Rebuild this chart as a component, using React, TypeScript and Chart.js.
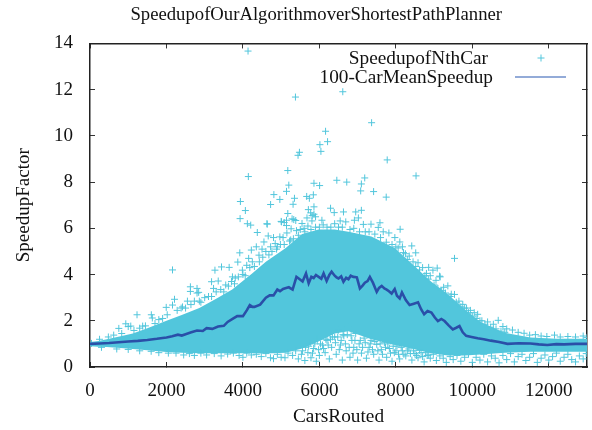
import React, { useEffect, useRef } from "react";
import { Chart, registerables } from "chart.js";

Chart.register(...registerables);

const titleText = "SpeedupofOurAlgorithmoverShortestPathPlanner";
const xTitle = "CarsRouted";
const yTitle = "SpeedupFactor";
const nthCarLabel = "SpeedupofNthCar";
const meanLabel = "100-CarMeanSpeedup";

const xTicks = [0, 2000, 4000, 6000, 8000, 10000, 12000];
const yTicks = [0, 2, 4, 6, 8, 10, 12, 14];

// Solid core of the cloud: upper and lower bounds
const bandX = [0, 220, 440, 800, 1120, 1500, 2000, 2400, 2860, 3300, 3720, 3980, 4240, 4600, 5120, 5550, 5980, 6400, 6760, 7360, 7970, 8400, 8920, 9360, 9800, 10220, 10840, 11520, 12200, 13000];
const bandUpper = [1.08, 1.13, 1.2, 1.33, 1.45, 1.68, 2.0, 2.25, 2.55, 2.95, 3.35, 3.7, 4.05, 4.55, 5.15, 5.75, 5.95, 5.95, 5.85, 5.65, 5.15, 4.5, 3.7, 3.15, 2.5, 1.95, 1.48, 1.28, 1.22, 1.22];
const bandLower = [0.9, 0.88, 0.86, 0.82, 0.78, 0.72, 0.65, 0.62, 0.6, 0.6, 0.6, 0.6, 0.6, 0.58, 0.62, 0.8, 1.1, 1.45, 1.55, 1.2, 0.95, 0.8, 0.6, 0.5, 0.5, 0.54, 0.62, 0.66, 0.66, 0.66];

// Individual crosses
const outlierPoints = [
  [4134, 13.67], [5374, 11.68], [6612, 11.91], [7366, 10.57], [6162, 10.2], [6214, 9.75], [6014, 9.62], [6040, 9.33], [5478, 9.29], [5442, 9.16], [7774, 8.96], [8528, 8.27], [4142, 8.24], [5174, 8.5], [7186, 8.18], [6456, 8.08], [6716, 8.0], [5858, 7.95], [5200, 7.87], [6006, 7.85], [7098, 7.92], [5140, 7.6], [7080, 7.62], [7418, 7.59], [4810, 7.46], [5842, 7.45], [5668, 7.38], [5738, 7.3], [7748, 7.35], [4966, 7.25], [5348, 7.3], [5312, 7.04], [4724, 7.03], [3934, 7.16], [5858, 6.93], [5712, 6.81], [4064, 6.77], [6292, 6.87], [6388, 6.68], [6630, 6.71], [6950, 6.71], [7098, 6.78], [5772, 6.67], [5858, 6.61], [5174, 6.64], [5810, 6.55], [5900, 6.5],
];

const upperEdgePoints = [
  [40, 1.02], [250, 1.2], [480, 1.3], [620, 1.38], [754, 1.67], [830, 1.45], [936, 1.87], [1000, 1.75], [1066, 1.77], [1150, 1.58], [1230, 2.26], [1300, 1.68], [1378, 1.77], [1450, 1.78], [1604, 2.26], [1630, 2.12], [1700, 1.88], [1800, 2.05], [1900, 2.1], [1994, 2.58], [2020, 2.26], [2158, 4.2], [2158, 2.68], [2210, 2.93], [2280, 2.45], [2384, 2.55], [2420, 2.6], [2500, 2.55], [2548, 2.85], [2626, 3.47], [2626, 3.27], [2640, 2.7], [2730, 2.85], [2800, 3.4], [2842, 3.23], [2800, 3.2], [2860, 2.85], [2900, 2.8], [3000, 3.0], [3100, 3.05], [3180, 3.05], [3180, 3.69], [3232, 3.4], [3268, 4.19], [3354, 3.72], [3440, 4.33], [3300, 3.25], [3420, 3.35], [3550, 3.55], [3640, 4.31], [3700, 3.7], [3726, 3.9], [3800, 3.85], [3866, 4.54], [3918, 4.94], [3926, 6.42], [3986, 4.19], [4116, 6.2], [4204, 6.14], [4376, 5.82], [4636, 6.18], [4628, 6.2], [5010, 6.28], [5080, 6.25], [5330, 6.38], [4662, 5.67], [5000, 6.3], [5140, 6.35], [5286, 6.41], [5382, 6.34], [5140, 6.12], [5260, 5.98], [5546, 6.21], [5806, 6.32], [6066, 6.35], [5676, 6.45], [4966, 5.63], [4844, 5.34], [4550, 5.41], [4350, 5.2], [4220, 5.06], [4724, 5.2], [4420, 4.84], [4246, 4.55], [4100, 4.4], [4150, 4.7], [4500, 5.1], [4600, 5.0], [4800, 5.6], [4900, 5.2], [5050, 5.6], [5150, 5.8], [5250, 5.5], [5400, 5.9], [5500, 5.95], [5600, 6.0], [5700, 6.1], [5900, 6.05], [6000, 6.05], [6100, 6.15], [6200, 6.05], [6300, 6.05], [6400, 6.2], [6544, 6.32], [6690, 6.28], [6916, 6.35], [7020, 6.45], [7150, 6.17], [7350, 6.18], [7584, 6.24], [7540, 6.04], [8112, 5.96], [7670, 5.85], [7818, 5.8], [7974, 5.6], [8104, 5.41], [8416, 5.24], [8172, 5.2], [8520, 4.94], [9534, 4.7], [8580, 4.51], [8858, 4.31], [9082, 4.28], [8970, 4.19], [9144, 3.93], [6500, 6.05], [6600, 6.05], [6800, 5.95], [6900, 6.0], [7050, 5.85], [7200, 5.85], [7300, 5.85], [7450, 5.75], [7600, 5.6], [7750, 5.4], [7900, 5.3], [8000, 5.2], [8250, 4.9], [8350, 4.8], [8450, 4.55], [8700, 4.3], [8800, 4.05], [8900, 3.95], [9050, 3.75], [9160, 3.9], [9250, 3.45], [9360, 3.51], [9450, 3.15], [9534, 3.14], [9650, 2.85], [9750, 2.71], [9850, 2.55], [9950, 2.45], [10050, 2.35], [10140, 2.28], [10250, 2.0], [10400, 1.95], [10550, 1.85], [10678, 2.02], [10800, 1.75], [10900, 1.65], [11050, 1.6], [11200, 1.5], [11354, 1.46], [11500, 1.38], [11650, 1.4], [11800, 1.34], [11950, 1.32], [12150, 1.38], [12300, 1.3], [12500, 1.32], [12700, 1.3], [12900, 1.34], [13000, 1.28],
  [3500, 3.25], [3620, 3.5], [3780, 3.6], [3880, 3.9], [4000, 4.0], [4060, 3.95], [4180, 4.3], [4300, 4.35], [4430, 4.55], [4520, 4.75], [4680, 4.85], [4760, 5.0], [4880, 5.1], [4980, 5.3], [5080, 5.3], [5220, 5.45], [5320, 5.55], [5450, 5.7], [5620, 5.85], [5780, 5.95], [8060, 5.15], [8200, 4.95], [8300, 4.65], [8520, 4.35], [8620, 4.2], [8760, 3.95], [8850, 3.8], [9000, 3.55], [9100, 3.4], [9200, 3.3], [9300, 3.2], [9420, 3.05], [9580, 2.8], [9700, 2.6], [9800, 2.55], [9900, 2.35], [10000, 2.2], [10100, 2.1], [10200, 2.0], [10330, 1.85], [10480, 1.72], [10620, 1.65], [10750, 1.55], [10850, 1.5],
];

const lowerEdgePoints = [
  [300, 0.85], [700, 0.78], [1000, 0.76], [1300, 0.7], [1600, 0.68], [1800, 0.62], [2050, 0.6], [2250, 0.6], [2450, 0.52], [2600, 0.58], [2730, 0.5], [2900, 0.6], [3050, 0.52], [3250, 0.58], [3430, 0.48], [3600, 0.56], [3750, 0.6], [3900, 0.5], [4000, 0.42], [4100, 0.6], [4220, 0.52], [4350, 0.55], [4480, 0.45], [4600, 0.58], [4720, 0.4], [4800, 0.36], [4900, 0.55], [5000, 0.42], [5100, 0.4], [5180, 0.6], [5300, 0.5], [5380, 0.7], [5450, 0.35], [5530, 0.55], [5620, 0.28], [5700, 0.62], [5780, 0.4], [5850, 0.8], [5920, 0.25], [6000, 0.5], [6080, 0.95], [6150, 0.62], [6200, 1.15], [6260, 0.35], [6320, 0.85], [6400, 1.3], [6440, 0.55], [6500, 1.6], [6550, 0.95], [6600, 0.3], [6640, 1.35], [6700, 0.7], [6750, 1.75], [6800, 0.42], [6850, 1.15], [6900, 0.85], [6950, 1.45], [7000, 0.3], [7040, 1.0], [7100, 0.6], [7170, 1.25], [7230, 0.38], [7300, 0.85], [7350, 1.15], [7420, 0.55], [7500, 0.98], [7560, 0.3], [7620, 0.75], [7700, 1.05], [7760, 0.42], [7830, 0.8], [7900, 0.25], [7960, 0.62], [8030, 0.9], [8100, 0.35], [8170, 0.7], [8260, 0.48], [8340, 0.78], [8420, 0.3], [8500, 0.58], [8580, 0.4], [8660, 0.62], [8740, 0.22], [8820, 0.5], [8900, 0.38], [8980, 0.55], [9060, 0.28], [9150, 0.48], [9240, 0.38], [9320, 0.2], [9420, 0.45], [9500, 0.32], [9600, 0.5], [9700, 0.25], [9800, 0.42], [9900, 0.55], [10000, 0.2], [10100, 0.42], [10200, 0.3], [10300, 0.55], [10400, 0.22], [10500, 0.48], [10600, 0.38], [10700, 0.18], [10800, 0.5], [10900, 0.32], [11000, 0.58], [11100, 0.22], [11200, 0.45], [11300, 0.55], [11400, 0.28], [11500, 0.42], [11600, 0.58], [11700, 0.2], [11800, 0.38], [11900, 0.52], [12000, 0.3], [12100, 0.45], [12200, 0.6], [12300, 0.25], [12400, 0.42], [12500, 0.55], [12600, 0.32], [12700, 0.22], [12800, 0.48], [12900, 0.35], [12980, 0.58],
  [5760, 1.05], [5950, 1.2],
  [5560, 0.7], [5640, 0.85], [5720, 0.9], [5820, 0.6], [5880, 1.0], [5980, 0.75], [6030, 1.0], [6110, 0.8], [6170, 1.2], [6230, 0.95], [6290, 1.2], [6340, 1.3], [6420, 1.05], [6480, 1.3], [6520, 0.75], [6570, 1.15], [6620, 1.4], [6680, 1.0], [6730, 1.4], [6780, 0.85], [6830, 1.35], [6880, 0.6], [6930, 1.15], [6980, 0.75], [7070, 1.15], [7130, 0.85], [7200, 1.05], [7270, 0.65], [7330, 1.0], [7390, 0.75], [7450, 1.1], [7530, 0.7], [7590, 1.0], [7650, 0.55], [7730, 0.85], [7790, 1.0], [7860, 0.6], [7930, 0.9], [8000, 0.7], [8070, 0.55], [8140, 0.85], [8210, 0.55], [8300, 0.7], [8380, 0.58], [8460, 0.7], [8540, 0.5], [8620, 0.72], [8700, 0.45], [8780, 0.62], [8860, 0.52],
];

// 100-car mean
const meanX = [0, 250, 500, 750, 1000, 1250, 1500, 1750, 2000, 2150, 2300, 2400, 2500, 2650, 2800, 2950, 3050, 3200, 3350, 3500, 3600, 3750, 3850, 4000, 4100, 4180, 4250, 4300, 4450, 4600, 4700, 4800, 4900, 4970, 5050, 5130, 5200, 5300, 5400, 5460, 5560, 5650, 5720, 5790, 5850, 5910, 5980, 6050, 6110, 6190, 6260, 6320, 6400, 6450, 6500, 6570, 6630, 6700, 6760, 6820, 6890, 6980, 7060, 7130, 7190, 7260, 7320, 7400, 7500, 7560, 7630, 7700, 7760, 7820, 7890, 7970, 8030, 8100, 8160, 8260, 8360, 8470, 8580, 8660, 8740, 8830, 8930, 9020, 9100, 9190, 9274, 9380, 9490, 9580, 9664, 9750, 9840, 9980, 10140, 10300, 10486, 10700, 10920, 11220, 11520, 11740, 11960, 12200, 12400, 12700, 13000];
const meanY = [1.0, 1.02, 1.04, 1.07, 1.1, 1.13, 1.17, 1.22, 1.28, 1.33, 1.4, 1.36, 1.42, 1.5, 1.58, 1.56, 1.68, 1.65, 1.75, 1.78, 1.95, 2.1, 2.2, 2.2, 2.45, 2.68, 2.6, 2.6, 2.7, 3.0, 3.1, 3.1, 3.35, 3.28, 3.38, 3.42, 3.45, 3.35, 3.9, 3.83, 3.7, 4.05, 3.62, 3.9, 3.85, 3.98, 3.9, 3.82, 4.05, 3.72, 3.98, 4.12, 3.95, 3.88, 3.83, 3.92, 3.69, 3.86, 3.8, 3.95, 3.9, 3.88, 3.4, 3.52, 3.65, 3.72, 3.9, 3.65, 3.25, 3.42, 3.51, 3.4, 3.35, 3.28, 3.18, 3.37, 3.08, 2.97, 3.23, 2.9, 2.68, 2.74, 2.8, 2.5, 2.28, 2.42, 2.36, 2.14, 1.99, 2.08, 1.99, 1.8, 1.63, 1.7, 1.77, 1.5, 1.35, 1.3, 1.24, 1.2, 1.14, 1.08, 1.0, 1.03, 1.02, 0.98, 0.95, 0.99, 0.98, 1.0, 1.0];

const CLOUD = "#52c6dc";
const MEAN = "#2a4fa8";
const SERIF = "'Liberation Serif', serif";

const pairsToXY = (pairs: number[][]) => pairs.map(([x, y]) => ({ x, y }));
const zipXY = (xs: number[], ys: number[]) => xs.map((x, i) => ({ x, y: ys[i] }));
const setTicks = (list: number[]) => (s: any) => { s.ticks = list.map((value) => ({ value })); };

const legendPlugin = {
  id: "gnuplotLegend",
  afterDatasetsDraw(chart: any) {
    const { ctx } = chart;
    ctx.save();
    ctx.font = `19.3px ${SERIF}`;
    ctx.fillStyle = "#111";
    ctx.textAlign = "right";
    ctx.textBaseline = "middle";
    ctx.fillText(nthCarLabel, 488, 59);
    ctx.fillText(meanLabel, 493, 78);
    ctx.strokeStyle = CLOUD;
    ctx.lineWidth = 1;
    ctx.beginPath();
    ctx.moveTo(537.5, 58);
    ctx.lineTo(544.5, 58);
    ctx.moveTo(541, 54.5);
    ctx.lineTo(541, 61.5);
    ctx.stroke();
    ctx.strokeStyle = "#6f8fcb";
    ctx.lineWidth = 1.5;
    ctx.beginPath();
    ctx.moveTo(515, 77);
    ctx.lineTo(566, 77);
    ctx.stroke();
    ctx.restore();
  },
};

const tickGrid = {
  drawOnChartArea: false,
  drawTicks: true,
  tickLength: -5,
  tickColor: "#333",
  tickWidth: 1,
};
const frame = { color: "#222", width: 1.5 };
const labelTick = (v: any) => String(v);

export default function App() {
  const ref = useRef<HTMLCanvasElement>(null);
  useEffect(() => {
    document.body.style.margin = "0";
    const chart = new Chart(ref.current as HTMLCanvasElement, {
      type: "scatter",
      plugins: [legendPlugin],
      data: {
        datasets: [
          {
            label: meanLabel,
            data: zipXY(meanX, meanY),
            showLine: true,
            borderColor: MEAN,
            borderWidth: 2.6,
            pointRadius: 0,
            order: 0,
          },
          {
            label: nthCarLabel,
            data: pairsToXY([...outlierPoints, ...upperEdgePoints, ...lowerEdgePoints]),
            pointStyle: "cross",
            pointRadius: 3.5,
            borderColor: CLOUD,
            backgroundColor: CLOUD,
            borderWidth: 1,
            order: 1,
          },
          {
            label: "core upper",
            data: zipXY(bandX, bandUpper),
            showLine: true,
            borderWidth: 0,
            borderColor: CLOUD,
            backgroundColor: CLOUD,
            pointRadius: 0,
            fill: "+1",
            order: 2,
          },
          {
            label: "core lower",
            data: zipXY(bandX, bandLower),
            showLine: true,
            borderWidth: 0,
            borderColor: CLOUD,
            pointRadius: 0,
            order: 3,
          },
        ],
      },
      options: {
        animation: false,
        responsive: false,
        layout: { padding: { left: 38, right: -2.5, top: 0, bottom: 0 } },
        plugins: {
          legend: { display: false },
          tooltip: { enabled: false },
          title: {
            display: true,
            text: titleText,
            color: "#111",
            font: { family: SERIF, size: 18.7, weight: "normal" },
            padding: { top: 4, bottom: 17 },
          },
        },
        scales: {
          x: {
            type: "linear",
            position: "bottom",
            min: 0,
            max: 13000,
            afterBuildTicks: setTicks(xTicks),
            afterFit: (s: any) => { s.height = 63; },
            title: { display: true, text: xTitle, color: "#111", font: { family: SERIF, size: 19.3 }, padding: { top: 0, bottom: 1 } },
            ticks: { autoSkip: false, maxRotation: 0, padding: 18, color: "#111", font: { family: SERIF, size: 19 }, callback: labelTick },
            grid: tickGrid,
            border: frame,
          },
          y: {
            type: "linear",
            position: "left",
            min: 0,
            max: 14,
            afterBuildTicks: setTicks(yTicks),
            afterFit: (s: any) => { s.width = 52; },
            title: { display: true, text: yTitle, color: "#111", font: { family: SERIF, size: 19 }, padding: { top: -25, bottom: 0 } },
            ticks: { autoSkip: false, padding: 22, color: "#111", font: { family: SERIF, size: 19 }, callback: labelTick },
            grid: tickGrid,
            border: frame,
          },
          x2: {
            type: "linear",
            position: "top",
            min: 0,
            max: 13000,
            afterBuildTicks: setTicks(xTicks),
            afterFit: (s: any) => { s.height = 0; },
            ticks: { autoSkip: false, display: false },
            grid: tickGrid,
            border: frame,
          },
          y2: {
            type: "linear",
            position: "right",
            min: 0,
            max: 14,
            afterBuildTicks: setTicks(yTicks),
            afterFit: (s: any) => { s.width = 0; },
            ticks: { autoSkip: false, display: false },
            grid: tickGrid,
            border: frame,
          },
        },
      },
    } as any);
    return () => chart.destroy();
  }, []);
  return <canvas ref={ref} width={592} height={430} style={{ display: "block" }} />;
}
